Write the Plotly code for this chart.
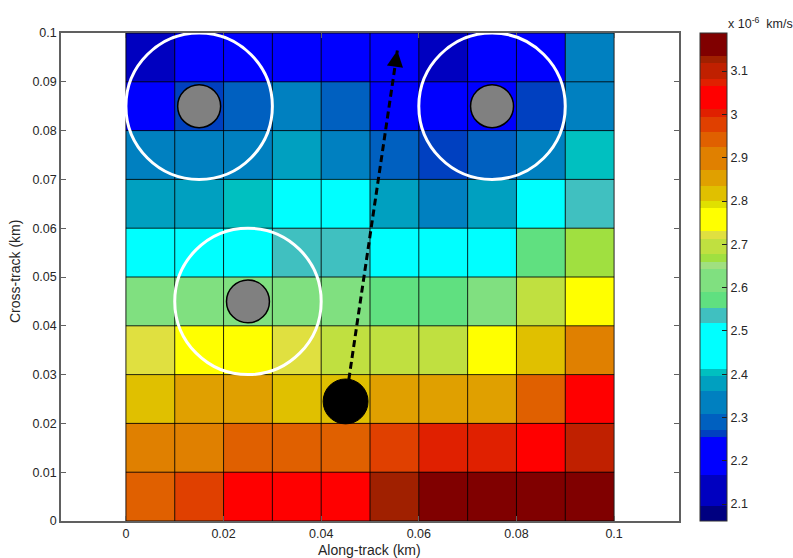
import plotly.graph_objects as go

# ---- data -------------------------------------------------------------
# cell centres (km)
along_track = [0.005, 0.015, 0.025, 0.035, 0.045, 0.055, 0.065, 0.075, 0.085, 0.095]
cross_track = [0.005, 0.015, 0.025, 0.035, 0.045, 0.055, 0.065, 0.075, 0.085, 0.095]

# speed field, x 1e-6 km/s (rows: cross-track bottom -> top)
speed_row_1 = [2.94, 2.98, 3.04, 3.05, 3.03, 3.125, 3.16, 3.17, 3.16, 3.15]
speed_row_2 = [2.89, 2.90, 2.94, 2.95, 2.94, 2.98, 3.07, 3.07, 3.04, 3.10]
speed_row_3 = [2.82, 2.85, 2.86, 2.82, 2.81, 2.85, 2.86, 2.85, 2.94, 3.04]
speed_row_4 = [2.72, 2.76, 2.75, 2.72, 2.70, 2.69, 2.70, 2.76, 2.82, 2.90]
speed_row_5 = [2.62, 2.61, 2.62, 2.61, 2.62, 2.57, 2.57, 2.61, 2.70, 2.75]
speed_row_6 = [2.48, 2.46, 2.47, 2.54, 2.53, 2.49, 2.48, 2.47, 2.57, 2.67]
speed_row_7 = [2.38, 2.37, 2.405, 2.44, 2.45, 2.38, 2.34, 2.38, 2.44, 2.53]
speed_row_8 = [2.33, 2.34, 2.32, 2.37, 2.33, 2.29, 2.265, 2.29, 2.34, 2.405]
speed_row_9 = [2.21, 2.262, 2.29, 2.33, 2.29, 2.23, 2.22, 2.24, 2.264, 2.34]
speed_row_10 = [2.13, 2.20, 2.21, 2.19, 2.20, 2.19, 2.14, 2.20, 2.21, 2.34]

# colour limits and tick labels of the colour bar
speed_min = 2.061
speed_max = 3.188
cbar_ticks = [2.1, 2.2, 2.3, 2.4, 2.5, 2.6, 2.7, 2.8, 2.9, 3.0, 3.1]
cbar_ticktext = ["2.1", "2.2", "2.3", "2.4", "2.5", "2.6", "2.7", "2.8", "2.9", "3", "3.1"]

# 64-entry colormap, listed as (colour, number of entries) from low to high
cmap_colors = ["#000080", "#0000c0", "#0000ff", "#0040c0", "#0060c0", "#0080c0",
               "#00a0c0", "#00c0c0", "#00ffff", "#40c0c0", "#60e080", "#80e080",
               "#a0e080", "#a0e040", "#c0e040", "#e0e040", "#ffff00", "#e0e000",
               "#e0c000", "#e0a000", "#e08000", "#e06000", "#e04000", "#e02000",
               "#ff0000", "#e02000", "#c02000", "#a02000", "#800000"]
cmap_counts = [2, 4, 5, 1, 2, 3, 2, 1, 6, 2, 2, 3, 1, 1, 2, 1, 3, 1, 2, 2, 3, 2, 2, 1,
               3, 1, 2, 1, 3]

# axis ticks
x_ticks = [0, 0.02, 0.04, 0.06, 0.08, 0.1]
x_ticktext = ["0", "0.02", "0.04", "0.06", "0.08", "0.1"]
y_ticks = [0, 0.01, 0.02, 0.03, 0.04, 0.05, 0.06, 0.07, 0.08, 0.09, 0.1]
y_ticktext = ["0", "0.01", "0.02", "0.03", "0.04", "0.05", "0.06", "0.07", "0.08", "0.09", "0.1"]

# grid cell edges
cell_edges = [0, 0.01, 0.02, 0.03, 0.04, 0.05, 0.06, 0.07, 0.08, 0.09, 0.1]

# large ring radius, source positions, vehicle position and velocity tip
ring_radius = 0.015
ring_x = [0.015, 0.075, 0.025]
ring_y = [0.085, 0.085, 0.045]
source_radius = 0.0044
vehicle_x = 0.045
vehicle_y = 0.0245
vehicle_radius = 0.0046
heading_x = 0.0556
heading_y = 0.0964

# ---- figure -----------------------------------------------------------
speed = [speed_row_1, speed_row_2, speed_row_3, speed_row_4, speed_row_5,
         speed_row_6, speed_row_7, speed_row_8, speed_row_9, speed_row_10]

total = sum(cmap_counts)
colorscale = []
acc = 0
for col, n in zip(cmap_colors, cmap_counts):
    colorscale.append([acc / total, col])
    acc += n
    colorscale.append([acc / total, col])

W, H = 793, 558
L, R, T, B = 61, 114, 33, 37
plot_w = W - L - R
plot_h = H - T - B

FONT = "Liberation Sans, Arial, sans-serif"
TXT = "#262626"
AX = "#606060"

fig = go.Figure()

fig.add_trace(go.Heatmap(
    x=along_track, y=cross_track, z=speed,
    colorscale=colorscale, zmin=speed_min, zmax=speed_max, zsmooth=False,
    hoverinfo="skip",
    colorbar=dict(
        x=(700 - L) / plot_w, xanchor="left", xpad=0,
        y=0.5, yanchor="middle", len=1, lenmode="fraction", ypad=0,
        thickness=27, outlinewidth=1, outlinecolor="#303030",
        tickvals=cbar_ticks, ticktext=cbar_ticktext,
        ticks="inside", ticklen=5, tickcolor="#202020", tickwidth=1,
        tickfont=dict(family=FONT, size=12.5, color=TXT),
    ),
))

# black cell borders
gx, gy = [], []
for e in cell_edges:
    gx += [e, e, None]
    gy += [0, 0.1, None]
    gx += [0, 0.1, None]
    gy += [e, e, None]
fig.add_trace(go.Scatter(x=gx, y=gy, mode="lines",
                         line=dict(color="rgba(0,0,0,0.85)", width=1),
                         hoverinfo="skip", showlegend=False))

# heading of the vehicle (dashed)
fig.add_trace(go.Scatter(x=[vehicle_x, heading_x], y=[vehicle_y, heading_y], mode="lines",
                         line=dict(color="black", width=3, dash="7px,4px"),
                         hoverinfo="skip", showlegend=False))

shapes = []
for cx, cy in zip(ring_x, ring_y):
    shapes.append(dict(type="circle", xref="x", yref="y",
                       x0=cx - ring_radius, x1=cx + ring_radius,
                       y0=cy - ring_radius, y1=cy + ring_radius,
                       line=dict(color="white", width=3)))
for cx, cy in zip(ring_x, ring_y):
    shapes.append(dict(type="circle", xref="x", yref="y",
                       x0=cx - source_radius, x1=cx + source_radius,
                       y0=cy - source_radius, y1=cy + source_radius,
                       fillcolor="#808080", line=dict(color="black", width=1.5)))
shapes.append(dict(type="circle", xref="x", yref="y",
                   x0=vehicle_x - vehicle_radius, x1=vehicle_x + vehicle_radius,
                   y0=vehicle_y - vehicle_radius, y1=vehicle_y + vehicle_radius,
                   fillcolor="black", line=dict(color="black", width=1)))

# inward ticks on the left side of the colour bar
cb_x0 = (700 - L) / plot_w
for v in cbar_ticks:
    yp = (v - speed_min) / (speed_max - speed_min)
    shapes.append(dict(type="line", xref="paper", yref="paper",
                       x0=cb_x0, x1=cb_x0 + 5 / plot_w, y0=yp, y1=yp,
                       line=dict(color="#202020", width=1)))

# arrow head at the end of the heading line
dxh = heading_x - vehicle_x
dyh = heading_y - vehicle_y
annotations = [
    dict(x=heading_x, y=heading_y, xref="x", yref="y",
         ax=heading_x - 0.04 * dxh, ay=heading_y - 0.04 * dyh, axref="x", ayref="y",
         text="", showarrow=True, arrowhead=2, arrowsize=1.3, arrowwidth=2.5,
         arrowcolor="black"),
    dict(x=(369 - L) / plot_w, y=(H - B - 550) / plot_h, xref="paper", yref="paper",
         text="Along-track (km)", showarrow=False, xanchor="center", yanchor="middle",
         font=dict(family=FONT, size=14, color=TXT)),
    dict(x=(15 - L) / plot_w, y=(H - B - 272) / plot_h, xref="paper", yref="paper",
         text="Cross-track (km)", showarrow=False, textangle=-90,
         xanchor="center", yanchor="middle",
         font=dict(family=FONT, size=14, color=TXT)),
    dict(x=(726 - L) / plot_w, y=(H - B - 23) / plot_h, xref="paper", yref="paper",
         text="x 10<sup>-6</sup>  km/s", showarrow=False, xanchor="left", yanchor="middle",
         font=dict(family=FONT, size=12.5, color=TXT)),
]

axis_common = dict(
    showgrid=False, zeroline=False, showline=True, linecolor=AX, linewidth=1.5,
    mirror="ticks", ticks="inside", ticklen=5, tickcolor=AX, tickwidth=1,
    tickfont=dict(family=FONT, size=12.5, color=TXT),
)

fig.update_layout(
    width=W, height=H, autosize=False,
    margin=dict(l=L, r=R, t=T, b=B, pad=0),
    paper_bgcolor="white", plot_bgcolor="white",
    showlegend=False,
    shapes=shapes, annotations=annotations,
    xaxis=dict(range=[-0.0133, 0.1133], tickvals=x_ticks, ticktext=x_ticktext,
               **axis_common),
    yaxis=dict(range=[0, 0.1], tickvals=y_ticks, ticktext=y_ticktext, **axis_common),
)

fig.write_html("out.html")
